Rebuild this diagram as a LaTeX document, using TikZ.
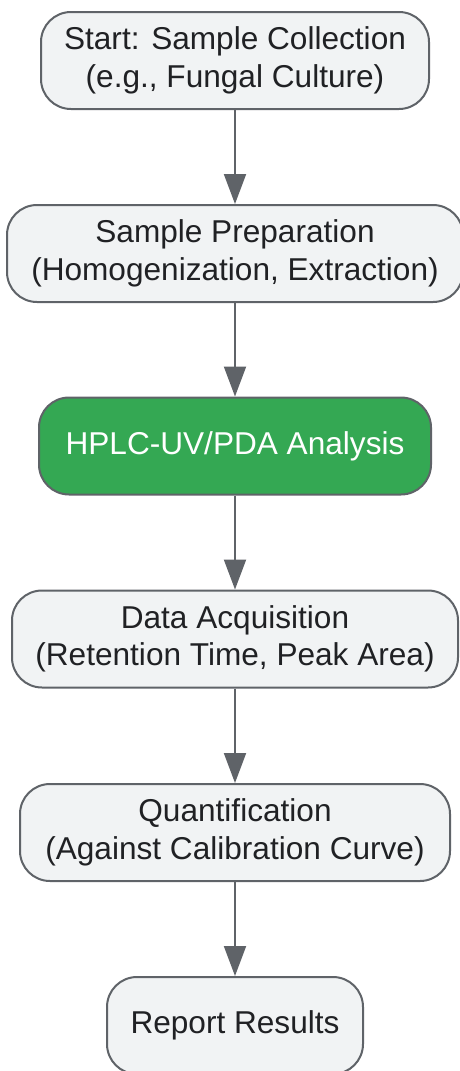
\documentclass[tikz,border=0pt]{standalone}
\usepackage{fontspec}
\setmainfont{Liberation Sans}
\usetikzlibrary{arrows.meta}
\definecolor{boxfill}{HTML}{F1F3F4}
\definecolor{boxline}{HTML}{5F6368}
\definecolor{txt}{HTML}{202124}
\definecolor{hplc}{HTML}{34A853}
\tikzset{
  stepbox/.style={draw=boxline, line width=2pt, fill=boxfill, rounded corners=30pt,
    minimum height=97pt, inner sep=0pt, align=center, text=txt,
    font=\fontsize{31.6}{37.5}\selectfont},
  greenbox/.style={stepbox, fill=hplc, text=white},
  flow/.style={draw=boxline, line width=2pt, -{Triangle[width=22pt,length=30pt]}}
}
\begin{document}
\begin{tikzpicture}[x=1pt,y=1pt]
\useasboundingbox (0,0) rectangle (459,-1071);
\node[stepbox, minimum width=388pt] (n1) at (235,-60.5) {Start: Sample Collection\\(e.g., Fungal Culture)};
\node[stepbox, minimum width=456pt] (n2) at (235,-253.5) {Sample Preparation\\(Homogenization, Extraction)};
\node[greenbox, minimum width=392pt] (n3) at (235,-446) {HPLC-UV/PDA Analysis};
\node[stepbox, minimum width=446pt] (n4) at (235,-639) {Data Acquisition\\(Retention Time, Peak Area)};
\node[stepbox, minimum width=430pt] (n5) at (235,-832.5) {Quantification\\(Against Calibration Curve)};
\node[stepbox, minimum width=256pt] (n6) at (235,-1025.5) {Report Results};
\draw[flow] (n1.south) -- (n2.north);
\draw[flow] (n2.south) -- (n3.north);
\draw[flow] (n3.south) -- (n4.north);
\draw[flow] (n4.south) -- (n5.north);
\draw[flow] (n5.south) -- (n6.north);
\end{tikzpicture}
\end{document}
